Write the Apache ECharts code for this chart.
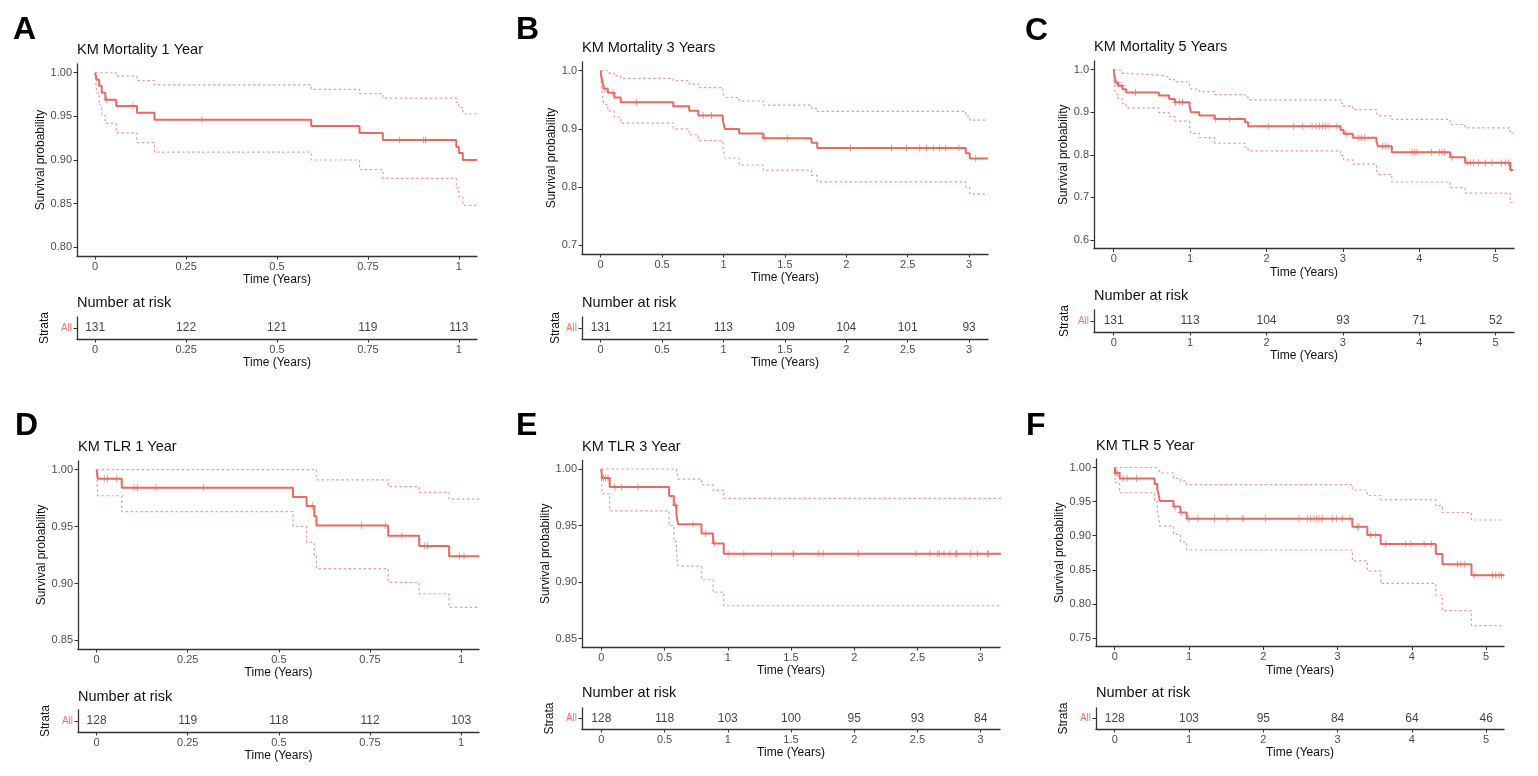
<!DOCTYPE html>
<html><head><meta charset="utf-8">
<script src="https://cdn.jsdelivr.net/npm/echarts@6/dist/echarts.min.js"></script>
<style>html,body{margin:0;padding:0;background:#fff}#c{width:1538px;height:776px}</style>
</head><body><div id="c"></div><script>
// ---------- DATA ----------
// Panel A: KM Mortality 1 Year
const A_time  = [0, 0.004, 0.011, 0.018, 0.028, 0.058, 0.115, 0.163, 0.594, 0.727, 0.791, 0.993, 1.000, 1.011, 1.05];
const A_surv  = [1, 0.992, 0.985, 0.977, 0.969, 0.962, 0.954, 0.946, 0.939, 0.931, 0.923, 0.915, 0.908, 0.900, 0.900];
const A_upper = [1, 1, 1, 1, 1, 0.996, 0.991, 0.986, 0.981, 0.976, 0.971, 0.966, 0.960, 0.953, 0.953];
const A_lower = [1, 0.977, 0.963, 0.951, 0.942, 0.931, 0.920, 0.909, 0.900, 0.889, 0.879, 0.868, 0.858, 0.848, 0.848];
const A_censor = [0.032, 0.104, 0.293, 0.837, 0.903, 0.908];
const A_riskT = [0, 0.25, 0.5, 0.75, 1];
const A_riskN = [131, 122, 121, 119, 113];
const A_yTicks = ['0.80', '0.85', '0.90', '0.95', '1.00'];

// Panel B: KM Mortality 3 Years
const B_time  = [0, 0.004, 0.011, 0.018, 0.028, 0.058, 0.111, 0.163, 0.591, 0.721, 0.795, 0.995, 1.002, 1.012, 1.128, 1.324, 1.717, 1.763, 2.973, 3.005, 3.154];
const B_surv  = [1, 0.992, 0.985, 0.977, 0.969, 0.962, 0.954, 0.946, 0.939, 0.931, 0.923, 0.915, 0.908, 0.900, 0.892, 0.884, 0.876, 0.867, 0.858, 0.849, 0.849];
const B_upper = [1, 1, 1, 1, 1, 0.996, 0.991, 0.987, 0.983, 0.977, 0.971, 0.962, 0.958, 0.954, 0.948, 0.941, 0.935, 0.930, 0.922, 0.915, 0.915];
const B_lower = [1, 0.977, 0.963, 0.951, 0.942, 0.931, 0.920, 0.910, 0.900, 0.890, 0.880, 0.870, 0.860, 0.850, 0.838, 0.829, 0.820, 0.809, 0.800, 0.788, 0.788];
const B_censor = [0.035, 0.100, 0.293, 0.835, 0.903, 1.337, 1.519, 2.034, 2.368, 2.490, 2.598, 2.653, 2.712, 2.761, 2.810, 2.918, 3.054];
const B_riskT = [0, 0.5, 1, 1.5, 2, 2.5, 3];
const B_riskN = [131, 121, 113, 109, 104, 101, 93];
const B_yTicks = ['0.7', '0.8', '0.9', '1.0'];

// Panel C: KM Mortality 5 Years
const C_time  = [0, 0.004, 0.011, 0.018, 0.028, 0.058, 0.115, 0.163, 0.591, 0.725, 0.798, 0.992, 1.0, 1.01, 1.12, 1.322, 1.72, 1.76, 2.97, 3.01, 3.13, 3.44, 3.46, 3.64, 4.405, 4.60, 5.19, 5.23];
const C_surv  = [1, 0.992, 0.985, 0.977, 0.969, 0.962, 0.954, 0.946, 0.939, 0.931, 0.923, 0.915, 0.908, 0.900, 0.892, 0.884, 0.876, 0.867, 0.858, 0.849, 0.840, 0.830, 0.820, 0.806, 0.794, 0.781, 0.764, 0.764];
const C_upper = [1, 1, 1, 1, 1, 0.996, 0.991, 0.987, 0.983, 0.977, 0.971, 0.962, 0.958, 0.954, 0.948, 0.941, 0.935, 0.929, 0.921, 0.914, 0.906, 0.898, 0.891, 0.883, 0.871, 0.863, 0.850, 0.850];
const C_lower = [1, 0.977, 0.963, 0.951, 0.942, 0.931, 0.920, 0.910, 0.899, 0.890, 0.879, 0.870, 0.860, 0.850, 0.840, 0.827, 0.818, 0.809, 0.798, 0.788, 0.778, 0.765, 0.754, 0.736, 0.723, 0.710, 0.688, 0.688];
const C_censor = [0.044, 0.109, 0.284, 0.81, 0.86, 0.90, 1.33, 1.514, 2.029, 2.356, 2.474, 2.596, 2.648, 2.692, 2.736, 2.77, 2.806, 2.923, 3.04, 3.2, 3.24, 3.285, 3.52, 3.556, 3.59, 3.905, 3.94, 3.97, 4.158, 4.263, 4.298, 4.332, 4.428, 4.625, 4.668, 4.712, 4.778, 4.865, 4.952, 5.074, 5.127, 5.17];
const C_riskT = [0, 1, 2, 3, 4, 5];
const C_riskN = [131, 113, 104, 93, 71, 52];
const C_yTicks = ['0.6', '0.7', '0.8', '0.9', '1.0'];

// Panel D: KM TLR 1 Year
const D_time  = [0, 0.003, 0.069, 0.539, 0.576, 0.597, 0.603, 0.800, 0.885, 0.967, 1.05];
const D_surv  = [1, 0.992, 0.984, 0.976, 0.968, 0.959, 0.951, 0.942, 0.933, 0.924, 0.924];
const D_upper = [1, 1, 1, 1, 1, 1, 0.991, 0.985, 0.980, 0.974, 0.974];
const D_lower = [1, 0.977, 0.963, 0.950, 0.936, 0.925, 0.913, 0.901, 0.891, 0.879, 0.879];
const D_censor = [0.021, 0.030, 0.055, 0.103, 0.112, 0.163, 0.293, 0.592, 0.727, 0.792, 0.837, 0.899, 0.908, 0.995, 1.008];
const D_riskT = [0, 0.25, 0.5, 0.75, 1];
const D_riskN = [128, 119, 118, 112, 103];
const D_yTicks = ['0.85', '0.90', '0.95', '1.00'];

// Panel E: KM TLR 3 Year
const E_time  = [0, 0.005, 0.066, 0.536, 0.573, 0.594, 0.607, 0.792, 0.884, 0.968, 3.166];
const E_surv  = [1, 0.992, 0.984, 0.976, 0.968, 0.959, 0.951, 0.943, 0.934, 0.925, 0.925];
const E_upper = [1, 1, 1, 1, 1, 1, 0.991, 0.986, 0.981, 0.974, 0.974];
const E_lower = [1, 0.978, 0.963, 0.950, 0.936, 0.925, 0.914, 0.902, 0.891, 0.879, 0.879];
const E_censor = [0.018, 0.034, 0.053, 0.106, 0.158, 0.29, 0.588, 0.726, 0.826, 0.897, 1.003, 1.127, 1.346, 1.517, 1.52, 1.715, 1.755, 2.032, 2.488, 2.599, 2.657, 2.673, 2.71, 2.757, 2.805, 2.81, 2.921, 2.974, 3.053, 3.06];
const E_riskT = [0, 0.5, 1, 1.5, 2, 2.5, 3];
const E_riskN = [128, 118, 103, 100, 95, 93, 84];
const E_yTicks = ['0.85', '0.90', '0.95', '1.00'];

// Panel F: KM TLR 5 Year
const F_time  = [0, 0.005, 0.066, 0.536, 0.573, 0.594, 0.607, 0.792, 0.884, 0.968, 3.199, 3.40, 3.58, 4.322, 4.411, 4.802, 5.24];
const F_surv  = [1, 0.992, 0.984, 0.976, 0.968, 0.959, 0.951, 0.943, 0.934, 0.925, 0.913, 0.901, 0.888, 0.873, 0.858, 0.842, 0.842];
const F_upper = [1, 1, 1, 1, 1, 0.996, 0.992, 0.984, 0.980, 0.975, 0.967, 0.959, 0.953, 0.944, 0.934, 0.923, 0.923];
const F_lower = [1, 0.978, 0.963, 0.950, 0.936, 0.925, 0.914, 0.902, 0.891, 0.879, 0.863, 0.848, 0.830, 0.813, 0.790, 0.768, 0.768];
const F_censor = [0.02, 0.04, 0.112, 0.166, 0.292, 0.809, 0.894, 0.997, 1.119, 1.343, 1.514, 1.716, 1.739, 2.031, 2.48, 2.592, 2.637, 2.682, 2.718, 2.749, 2.794, 2.929, 2.987, 3.064, 3.167, 3.266, 3.288, 3.446, 3.513, 3.648, 3.917, 3.985, 4.164, 4.263, 4.614, 4.659, 4.712, 4.838, 5.085, 5.13, 5.175, 5.207];
const F_riskT = [0, 1, 2, 3, 4, 5];
const F_riskN = [128, 103, 95, 84, 64, 46];
const F_yTicks = ['0.75', '0.80', '0.85', '0.90', '0.95', '1.00'];

const xTicks1 = ['0', '0.25', '0.5', '0.75', '1'];
const xTicks3 = ['0', '0.5', '1', '1.5', '2', '2.5', '3'];
const xTicks5 = ['0', '1', '2', '3', '4', '5'];

const titles = ['KM Mortality 1 Year', 'KM Mortality 3 Years', 'KM Mortality 5 Years', 'KM TLR 1 Year', 'KM TLR 3 Year', 'KM TLR 5 Year'];
const letters = ['A', 'B', 'C', 'D', 'E', 'F'];

// ---------- LAYOUT ----------
const FONT = "'Liberation Sans', Arial, Helvetica, sans-serif";
const RED = '#EA6A63';
const CI = '#F29A94';
const AX = '#333333';

const layouts = [
  {letter:[13,30], title:[77,50], main:[77,64,400,192], nat:[77,303], risk:[77,317,400,22], yGap:26, xMin:-0.05, xMax:1.05, yMin:0.79, yMax:1.01},
  {letter:[516,30], title:[582,48], main:[582,62,406,192], nat:[582,303], risk:[582,317,406,22], yGap:20, xMin:-0.152, xMax:3.154, yMin:0.685, yMax:1.015},
  {letter:[1025,31], title:[1094,47], main:[1094,61,420,187.5], nat:[1094,296], risk:[1094,310,420,22], yGap:23, xMin:-0.258, xMax:5.24, yMin:0.58, yMax:1.02},
  {letter:[15,426], title:[78,447], main:[78,461,401,188], nat:[78,697], risk:[78,710,401,22], yGap:26, xMin:-0.051, xMax:1.049, yMin:0.8425, yMax:1.0075},
  {letter:[516,426], title:[582,447], main:[582,460.5,418,186.5], nat:[582,693], risk:[582,708,418,21], yGap:26, xMin:-0.153, xMax:3.153, yMin:0.8425, yMax:1.0075},
  {letter:[1026,426], title:[1096,446], main:[1096,459,408,187.5], nat:[1096,693], risk:[1096,708,408,21], yGap:26, xMin:-0.252, xMax:5.24, yMin:0.7375, yMax:1.0125}
];

const panels = [
  {time:A_time, surv:A_surv, upper:A_upper, lower:A_lower, censor:A_censor, riskT:A_riskT, riskN:A_riskN, yTicks:A_yTicks, xTicks:xTicks1},
  {time:B_time, surv:B_surv, upper:B_upper, lower:B_lower, censor:B_censor, riskT:B_riskT, riskN:B_riskN, yTicks:B_yTicks, xTicks:xTicks3},
  {time:C_time, surv:C_surv, upper:C_upper, lower:C_lower, censor:C_censor, riskT:C_riskT, riskN:C_riskN, yTicks:C_yTicks, xTicks:xTicks5},
  {time:D_time, surv:D_surv, upper:D_upper, lower:D_lower, censor:D_censor, riskT:D_riskT, riskN:D_riskN, yTicks:D_yTicks, xTicks:xTicks1},
  {time:E_time, surv:E_surv, upper:E_upper, lower:E_lower, censor:E_censor, riskT:E_riskT, riskN:E_riskN, yTicks:E_yTicks, xTicks:xTicks3},
  {time:F_time, surv:F_surv, upper:F_upper, lower:F_lower, censor:F_censor, riskT:F_riskT, riskN:F_riskN, yTicks:F_yTicks, xTicks:xTicks5}
];

function pairs(t, v) { return t.map((x, i) => [x, v[i]]); }
function survAt(t, s, x) { let r = 1; for (let i = 0; i < t.length; i++) if (t[i] <= x) r = s[i]; return r; }
function labelFor(labels, vals) {
  return v => { const i = vals.findIndex(u => Math.abs(u - v) < 1e-9); return i >= 0 ? labels[i] : ''; };
}
const PLUS = 'path://M-0.12,-1H0.12V-0.12H1V0.12H0.12V1H-0.12V0.12H-1V-0.12H-0.12Z';

const grid = [], xAxis = [], yAxis = [], series = [], graphic = [];

panels.forEach((p, k) => {
  const L = layouts[k];
  const gm = 2 * k, gr = 2 * k + 1;
  grid.push({left: L.main[0], top: L.main[1], width: L.main[2], height: L.main[3], outerBoundsMode: 'none'});
  grid.push({left: L.risk[0], top: L.risk[1], width: L.risk[2], height: L.risk[3], outerBoundsMode: 'none'});
  const xv = p.xTicks.map(Number);
  const yv = p.yTicks.map(Number);
  const xAx = (gi) => ({
    gridIndex: gi, type: 'value', min: L.xMin, max: L.xMax,
    axisLine: {show: true, onZero: false, lineStyle: {color: AX, width: 1.3}},
    axisTick: {show: true, length: 3.5, customValues: xv, lineStyle: {color: AX, width: 1}},
    axisLabel: {customValues: xv, formatter: labelFor(p.xTicks, xv), margin: 5, color: '#4D4D4D', fontSize: 11, fontFamily: FONT},
    splitLine: {show: false},
    name: 'Time (Years)', nameLocation: 'middle', nameGap: 18,
    nameTextStyle: {fontSize: 12, color: '#111', fontFamily: FONT}
  });
  xAxis.push(xAx(gm));
  xAxis.push(xAx(gr));
  yAxis.push({
    gridIndex: gm, type: 'value', min: L.yMin, max: L.yMax,
    axisLine: {show: true, onZero: false, lineStyle: {color: AX, width: 1.3}},
    axisTick: {show: true, length: 3.5, customValues: yv, lineStyle: {color: AX, width: 1}},
    axisLabel: {customValues: yv, formatter: labelFor(p.yTicks, yv), margin: 5, color: '#4D4D4D', fontSize: 11, fontFamily: FONT},
    splitLine: {show: false},
    name: 'Survival probability', nameLocation: 'middle', nameGap: L.yGap,
    nameTextStyle: {fontSize: 12, color: '#111', fontFamily: FONT}
  });
  yAxis.push({
    gridIndex: gr, type: 'category', data: ['All'],
    axisLine: {show: true, onZero: false, lineStyle: {color: AX, width: 1.3}},
    axisTick: {show: true, length: 3.5, alignWithLabel: true, lineStyle: {color: AX, width: 1}},
    axisLabel: {margin: 5, color: '#F8766D', fontSize: 10, fontFamily: FONT},
    splitLine: {show: false},
    name: 'Strata', nameLocation: 'middle', nameGap: L.yGap,
    nameTextStyle: {fontSize: 12, color: '#111', fontFamily: FONT}
  });

  const lineBase = {type: 'line', step: 'end', xAxisIndex: gm, yAxisIndex: gm, symbol: 'none', showSymbol: false, silent: true, clip: true, z: 2};
  series.push(Object.assign({}, lineBase, {data: pairs(p.time, p.lower), lineStyle: {color: CI, width: 1.2, type: [2.5, 2.5]}}));
  series.push(Object.assign({}, lineBase, {data: pairs(p.time, p.upper), lineStyle: {color: CI, width: 1.2, type: [2.5, 2.5]}}));
  series.push(Object.assign({}, lineBase, {data: pairs(p.time, p.surv), lineStyle: {color: RED, width: 2}, z: 3}));
  series.push({
    type: 'scatter', xAxisIndex: gm, yAxisIndex: gm, silent: true, z: 4,
    symbol: PLUS, symbolSize: 7, itemStyle: {color: RED},
    data: p.censor.map(t => [t, survAt(p.time, p.surv, t)])
  });
  series.push({
    type: 'scatter', xAxisIndex: gr, yAxisIndex: gr, silent: true,
    symbolSize: 1, itemStyle: {color: 'rgba(0,0,0,0)'},
    label: {show: true, position: 'inside', formatter: q => String(q.value[2]), fontSize: 12, color: '#111', fontFamily: FONT},
    data: p.riskT.map((t, i) => [t, 0, p.riskN[i]])
  });

  graphic.push({type: 'text', x: L.letter[0], y: L.letter[1], silent: true,
    style: {text: letters[k], font: 'bold 32px ' + FONT, fill: '#000', textVerticalAlign: 'middle', verticalAlign: 'middle'}});
  graphic.push({type: 'text', x: L.title[0], y: L.title[1], silent: true,
    style: {text: titles[k], font: '14.5px ' + FONT, fill: '#111', textVerticalAlign: 'middle', verticalAlign: 'middle'}});
  graphic.push({type: 'text', x: L.nat[0], y: L.nat[1], silent: true,
    style: {text: 'Number at risk', font: '14.5px ' + FONT, fill: '#111', textVerticalAlign: 'middle', verticalAlign: 'middle'}});
});

const chart = echarts.init(document.getElementById('c'), null, {renderer: 'canvas'});
chart.setOption({
  backgroundColor: '#fff',
  animation: false,
  textStyle: {fontFamily: FONT},
  grid, xAxis, yAxis, series, graphic
});
</script></body></html>
